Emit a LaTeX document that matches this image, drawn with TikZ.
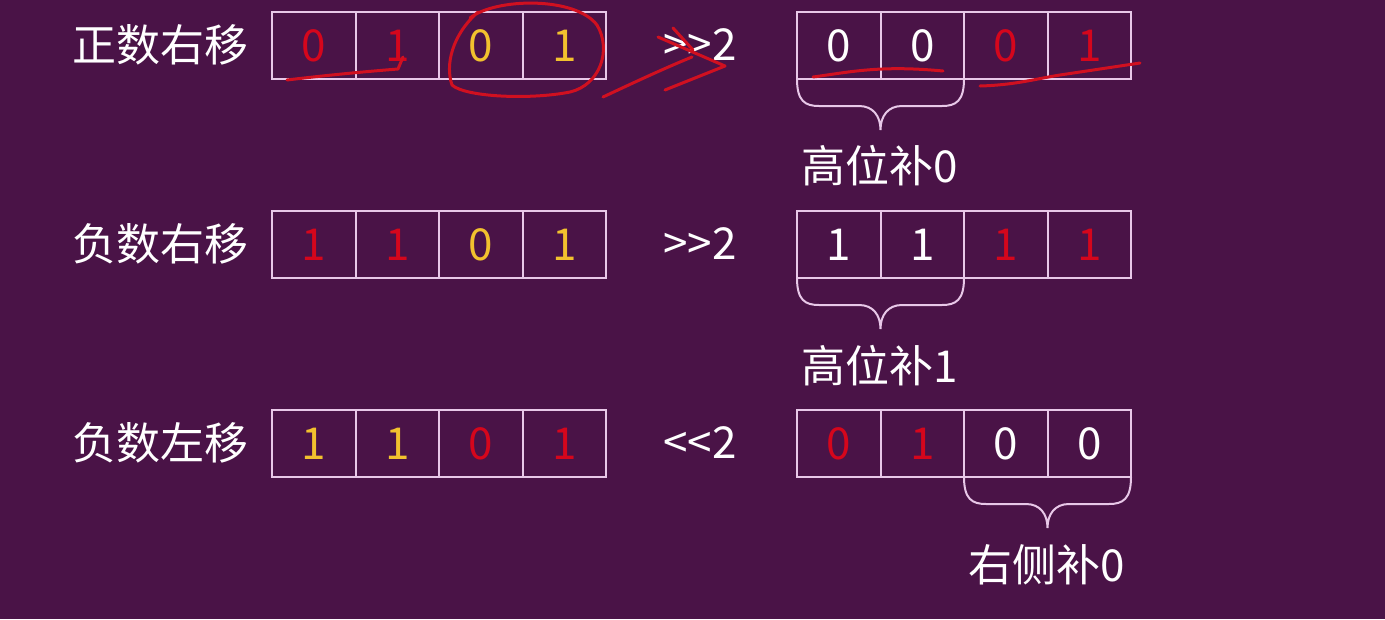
\documentclass[tikz,border=0pt]{standalone}
\usepackage{fontspec}
\newfontfamily\cjk{Noto Sans CJK SC}
\usetikzlibrary{matrix}

\definecolor{bgpurple}{HTML}{4A1347}
\definecolor{boxline}{HTML}{E8C8E8}
\definecolor{bitred}{HTML}{D5061C}
\definecolor{bityellow}{HTML}{F2C12E}
\definecolor{inkred}{HTML}{D01020}

\tikzset{
  bits/.style={matrix of nodes, ampersand replacement=\&, column sep=-2pt, inner sep=0pt,
    nodes={draw=boxline, line width=2pt, outer sep=0pt, inner sep=0pt,
      minimum width=83.5pt, minimum height=67pt, text=white}},
  rd/.style={text=bitred},
  yl/.style={text=bityellow},
  lbl/.style={text=white, inner sep=0pt},
  brace line/.style={draw=boxline, line width=2pt},
  ink/.style={draw=inkred, line width=3pt, line cap=round, line join=round}
}

% rounded brace hanging below two cells, starting at the left corner
\newcommand\bitbrace[1]{%
  \draw[brace line] (#1) .. controls +(0,22) and +(-14,0) .. ++(22,27) -- ++(40,0)
    .. controls +(14,0) and +(0,-14) .. ++(21.5,24)
    .. controls +(0,-14) and +(-14,0) .. ++(21.5,-24) -- ++(40,0)
    .. controls +(14,0) and +(0,22) .. ++(22,-27);}

\begin{document}
\begin{tikzpicture}[x=1pt, y=-1pt,
every node/.style={font=\cjk\fontsize{44}{50}\selectfont}
]
\fill[bgpurple] (0,0) rectangle (1385,619);
\useasboundingbox (0,0) rectangle (1385,619);

% row labels
\node[lbl, anchor=east] (n1) at (249,45) {正数右移};
\node[lbl, anchor=east] (n2) at (249,244) {负数右移};
\node[lbl, anchor=east] (n3) at (249,443) {负数左移};

\node[lbl] (op1) at (700,45) {>>2};
\node[lbl] (op2) at (700,244) {>>2};
\node[lbl] (op3) at (700,443) {<<2};

% before shift
\matrix (a1) [bits] at (439,45.5) {
|[rd]| 0 \& |[rd]| 1 \& |[yl]| 0 \& |[yl]| 1 \\
};
\matrix (a2) [bits] at (439,244.5) {
|[rd]| 1 \& |[rd]| 1 \& |[yl]| 0 \& |[yl]| 1 \\
};
\matrix (a3) [bits] at (439,443.5) {
|[yl]| 1 \& |[yl]| 1 \& |[rd]| 0 \& |[rd]| 1 \\
};

% after shift
\matrix (b1) [bits] at (964,45.5) {
0 \& 0 \& |[rd]| 0 \& |[rd]| 1 \\
};
\matrix (b2) [bits] at (964,244.5) {
1 \& 1 \& |[rd]| 1 \& |[rd]| 1 \\
};
\matrix (b3) [bits] at (964,443.5) {
|[rd]| 0 \& |[rd]| 1 \& 0 \& 0 \\
};

\bitbrace{b1-1-1.south west}
\bitbrace{b2-1-1.south west}
\bitbrace{b3-1-3.south west}

\node[lbl] (f1) at (880,166) {高位补0};
\node[lbl] (f2) at (880,366) {高位补1};
\node[lbl] (f3) at (1047,565) {右侧补0};

% pen marks
\draw[ink] (287,80) .. controls (320,76) and (360,72) .. (398,69) -- (403,57);
\draw[ink] (470,18) .. controls (495,-2) and (575,-4) .. (597,25)
  .. controls (612,50) and (600,85) .. (570,92)
  .. controls (530,100) and (465,97) .. (452,85)
  .. controls (445,65) and (452,35) .. (478,12);
\draw[ink] (603,97) .. controls (635,82) and (665,68) .. (692,57);
\draw[ink] (658,37) -- (725,66) -- (665,90);
\draw[ink] (673,28) -- (693,50);
\draw[ink] (813,77) .. controls (850,72) and (880,65) .. (943,71);
\draw[ink] (980,86) .. controls (1015,85) and (1035,79) .. (1060,75) -- (1140,63);

\end{tikzpicture}
\end{document}
